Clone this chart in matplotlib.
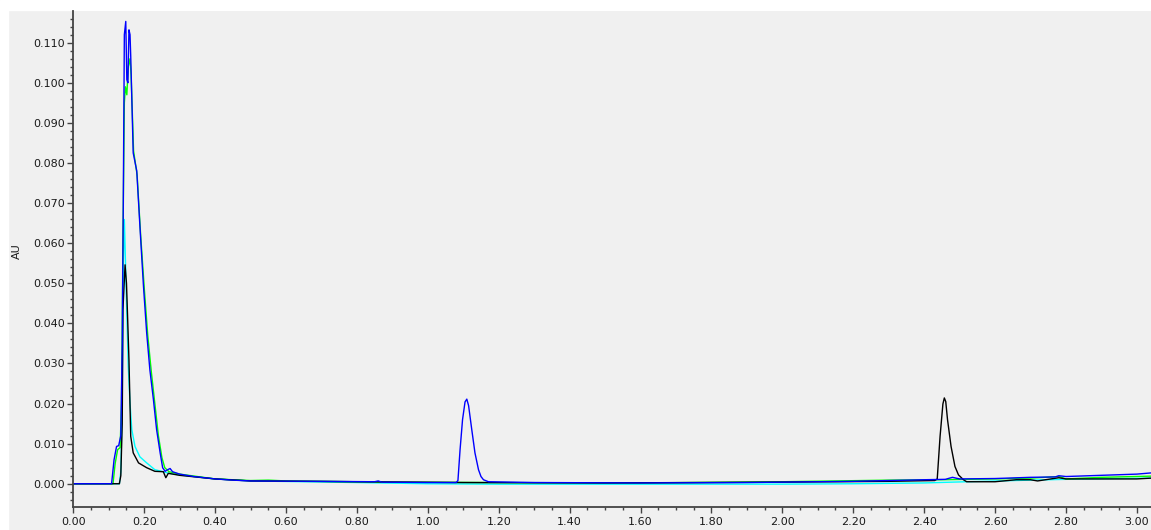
import matplotlib.pyplot as plt
from matplotlib.patches import Rectangle
from matplotlib.ticker import MultipleLocator, FormatStrFormatter

# retention time (min) / absorbance (AU)
blue_t = [0.000, 0.108, 0.115, 0.122, 0.128, 0.134, 0.138, 0.141, 0.144, 0.148,
          0.151, 0.154, 0.157, 0.160, 0.162, 0.169, 0.179, 0.188, 0.198, 0.207,
          0.216, 0.226, 0.235, 0.245, 0.252, 0.259, 0.266, 0.273, 0.280, 0.300,
          0.340, 0.400, 0.450, 0.500, 0.700, 0.850, 0.860, 0.870, 1.000, 1.080,
          1.085, 1.091, 1.098, 1.105, 1.110, 1.115, 1.124, 1.133, 1.143, 1.150,
          1.157, 1.171, 1.300, 1.600, 1.900, 2.200, 2.400, 2.460, 2.480, 2.500,
          2.600, 2.700, 2.770, 2.780, 2.800, 2.900, 3.000, 3.040]
blue_v = [0.0000, 0.0000, 0.0060, 0.0093, 0.0095, 0.0120, 0.0350, 0.0700, 0.1120, 0.1153,
          0.1008, 0.1000, 0.1132, 0.1120, 0.1066, 0.0825, 0.0780, 0.0641, 0.0492, 0.0376,
          0.0284, 0.0210, 0.0135, 0.0077, 0.0040, 0.0031, 0.0035, 0.0038, 0.0030, 0.0024,
          0.0018, 0.0012, 0.0009, 0.0007, 0.0006, 0.0005, 0.0007, 0.0004, 0.0003, 0.0003,
          0.0008, 0.0085, 0.0160, 0.0204, 0.0211, 0.0195, 0.0135, 0.0077, 0.0035, 0.0018,
          0.0010, 0.0005, 0.0003, 0.0002, 0.0003, 0.0006, 0.0010, 0.0011, 0.0016, 0.0012,
          0.0013, 0.0016, 0.0017, 0.0020, 0.0018, 0.0021, 0.0024, 0.0027]

green_t = [0.000, 0.112, 0.118, 0.125, 0.132, 0.136, 0.140, 0.144, 0.147, 0.151,
           0.155, 0.160, 0.163, 0.170, 0.180, 0.190, 0.200, 0.210, 0.220, 0.230,
           0.240, 0.250, 0.258, 0.270, 0.300, 0.400, 0.500, 0.550, 0.600, 0.900,
           1.200, 1.600, 2.000, 2.300, 2.450, 2.600, 2.700, 2.780, 2.800, 2.900, 3.040]
green_v = [0.0000, 0.0000, 0.0050, 0.0085, 0.0090, 0.0200, 0.0600, 0.0950, 0.0990, 0.0970,
           0.1040, 0.1060, 0.1020, 0.0830, 0.0770, 0.0620, 0.0490, 0.0370, 0.0280, 0.0200,
           0.0120, 0.0065, 0.0040, 0.0030, 0.0024, 0.0012, 0.0008, 0.0009, 0.0007, 0.0004,
           0.0003, 0.0002, 0.0005, 0.0009, 0.0010, 0.0012, 0.0014, 0.0018, 0.0012, 0.0016, 0.0019]

cyan_t = [0.000, 0.130, 0.134, 0.138, 0.141, 0.144, 0.150, 0.155, 0.160, 0.165,
          0.174, 0.188, 0.207, 0.230, 0.254, 0.270, 0.300, 0.400, 0.500, 0.800,
          1.000, 1.200, 1.600, 2.000, 2.200, 2.400, 2.520, 2.700, 2.800, 3.040]
cyan_v = [0.0000, 0.0000, 0.0030, 0.0200, 0.0550, 0.0659, 0.0459, 0.0293, 0.0201, 0.0135,
          0.0093, 0.0067, 0.0052, 0.0035, 0.0030, 0.0026, 0.0022, 0.0012, 0.0007, 0.0003,
          0.0000, -0.0001, -0.0001, -0.0001, 0.0000, 0.0002, 0.0005, 0.0009, 0.0011, 0.0014]

black_t = [0.000, 0.130, 0.134, 0.138, 0.140, 0.146, 0.150, 0.153, 0.157, 0.162,
           0.169, 0.184, 0.207, 0.230, 0.254, 0.261, 0.268, 0.300, 0.400, 0.500,
           0.800, 1.100, 1.500, 2.000, 2.300, 2.430, 2.437, 2.445, 2.453, 2.457,
           2.461, 2.466, 2.476, 2.487, 2.497, 2.511, 2.520, 2.600, 2.660, 2.700,
           2.720, 2.780, 2.800, 3.000, 3.040]
black_v = [0.0000, 0.0000, 0.0020, 0.0150, 0.0434, 0.0546, 0.0500, 0.0420, 0.0309, 0.0118,
           0.0077, 0.0052, 0.0040, 0.0031, 0.0030, 0.0015, 0.0026, 0.0021, 0.0012, 0.0007,
           0.0005, 0.0003, 0.0002, 0.0004, 0.0006, 0.0008, 0.0012, 0.0118, 0.0199, 0.0214,
           0.0205, 0.0160, 0.0093, 0.0043, 0.0022, 0.0010, 0.0005, 0.0005, 0.0010, 0.0010,
           0.0007, 0.0015, 0.0012, 0.0012, 0.0014]

bg = "#f0f0f0"
fig = plt.figure(figsize=(11.51, 5.30), dpi=100, facecolor=bg)
# white strip along top and left edge
fig.add_artist(Rectangle((0, 1 - 10 / 530), 1, 10 / 530, transform=fig.transFigure,
                         color="white", zorder=0))
fig.add_artist(Rectangle((0, 0), 8 / 1151, 1, transform=fig.transFigure,
                         color="white", zorder=0))

ax = fig.add_axes([73.3 / 1151, 23 / 530, 1 - 73.3 / 1151, 496 / 530])
ax.set_facecolor(bg)

ax.plot(cyan_t, cyan_v, color="#00ffff", lw=1.0)
ax.plot(green_t, green_v, color="#00ff00", lw=1.0)
ax.plot(black_t, black_v, color="#000000", lw=1.0)
ax.plot(blue_t, blue_v, color="#0000ff", lw=1.0)

ax.set_xlim(0, 3.040)
ax.set_ylim(-0.0058, 0.1179)

ax.xaxis.set_major_locator(MultipleLocator(0.2))
ax.xaxis.set_minor_locator(MultipleLocator(0.05))
ax.yaxis.set_major_locator(MultipleLocator(0.01))
ax.yaxis.set_minor_locator(MultipleLocator(0.002))
ax.xaxis.set_major_formatter(FormatStrFormatter("%.2f"))
ax.yaxis.set_major_formatter(FormatStrFormatter("%.3f"))

for s in ["top", "right"]:
    ax.spines[s].set_visible(False)
for s in ["left", "bottom"]:
    ax.spines[s].set_color("#444444")
    ax.spines[s].set_linewidth(1.3)

ax.tick_params(which="major", direction="out", length=4.5, width=1.0, color="#444444",
               labelsize=8, labelcolor="#1a1a1a", pad=1.5)
ax.tick_params(which="minor", direction="out", length=2.5, width=1.0, color="#444444")
ax.tick_params(axis="x", which="major", pad=3)

ax.set_ylabel("AU", fontsize=8, color="#1a1a1a")
ax.yaxis.set_label_coords(-0.0478, 0.515)

fig.savefig("out.png", dpi=100, facecolor=bg)
